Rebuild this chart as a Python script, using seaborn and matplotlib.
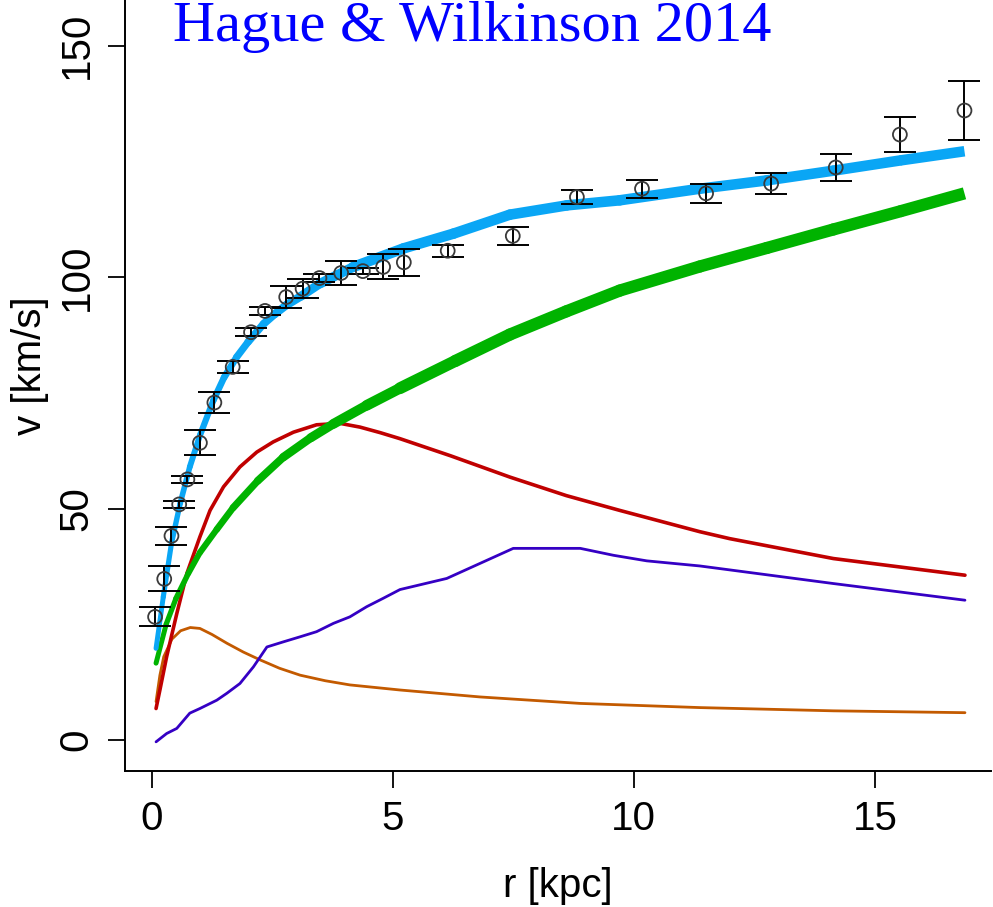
import numpy as np
import matplotlib
matplotlib.use("Agg")
import matplotlib.pyplot as plt
from matplotlib.collections import LineCollection
import seaborn as sns

# Observed rotation curve (kpc, km/s)
r_obs = [0.07, 0.26, 0.41, 0.57, 0.74, 1.00, 1.30, 1.68, 2.06, 2.35, 2.79, 3.13, 3.48,
         3.93, 4.38, 4.80, 5.23, 6.14, 7.49, 8.82, 10.17, 11.50, 12.85, 14.19, 15.52, 16.86]
v_obs = [26.6, 34.8, 44.1, 50.9, 56.3, 64.2, 72.9, 80.6, 88.1, 92.7, 95.7, 97.5, 99.8,
         100.9, 101.3, 102.2, 103.2, 105.7, 108.9, 117.3, 119.1, 118.1, 120.2, 123.7, 130.8, 136.0]
v_err = [2.05, 2.7, 2.0, 0.7, 0.8, 2.7, 2.2, 1.3, 0.9, 0.9, 2.3, 2.1, 0.8,
         2.6, 0.7, 2.7, 2.9, 1.25, 2.0, 1.5, 1.9, 2.1, 2.3, 2.9, 3.8, 6.3]

# Total model
r_total = [0.09, 0.24, 0.41, 0.59, 0.79, 1.00, 1.28, 1.50, 1.76, 2.00, 2.32, 2.55, 2.80,
           3.10, 3.49, 4.18, 5.22, 6.26, 7.43, 8.61, 9.71, 11.37, 12.76, 14.14, 15.52, 16.86]
v_total = [19.8, 30.9, 42.5, 51.1, 59.0, 65.8, 73.4, 78.3, 82.7, 86.0, 89.9, 92.0, 94.0,
           95.9, 98.6, 102.2, 106.2, 109.4, 113.5, 115.5, 116.6, 119.1, 120.9, 123.0, 125.2, 127.2]

# Dark matter halo
r_halo = [0.09, 0.30, 0.50, 0.76, 1.00, 1.35, 1.69, 2.20, 2.73, 3.30, 3.77, 4.46, 5.15,
          6.30, 7.43, 8.60, 9.71, 11.37, 12.76, 14.14, 15.52, 16.86]
v_halo = [16.6, 25.0, 30.5, 36.0, 40.5, 45.5, 50.2, 56.0, 61.1, 65.3, 68.3, 72.3, 76.0,
          81.9, 87.6, 92.6, 97.1, 102.3, 106.3, 110.3, 114.2, 118.1]

# Stellar disc
r_disc = [0.09, 0.17, 0.31, 0.52, 0.73, 1.00, 1.21, 1.49, 1.83, 2.18, 2.52, 2.94, 3.42,
          3.91, 4.32, 4.74, 5.15, 6.20, 7.43, 8.60, 9.71, 11.37, 11.99, 14.14, 16.87]
v_disc = [6.8, 10.8, 18.0, 27.3, 36.0, 43.9, 49.6, 54.7, 59.0, 62.2, 64.4, 66.5, 68.1,
          68.4, 67.6, 66.4, 65.1, 61.4, 56.8, 52.8, 49.6, 45.0, 43.5, 39.2, 35.6]

# Gas
r_gas = [0.09, 0.31, 0.52, 0.79, 1.00, 1.35, 1.56, 1.83, 2.11, 2.39, 2.73, 3.08, 3.42,
         3.77, 4.11, 4.46, 4.80, 5.15, 6.12, 7.50, 8.89, 9.58, 10.27, 11.37, 14.14, 16.87]
v_gas = [-0.4, 1.4, 2.5, 5.8, 6.8, 8.6, 10.1, 12.2, 15.8, 20.1, 21.2, 22.3, 23.4,
         25.2, 26.6, 28.8, 30.6, 32.5, 34.9, 41.4, 41.4, 39.9, 38.7, 37.6, 33.8, 30.2]

# Bulge
r_bulge = [0.09, 0.17, 0.25, 0.42, 0.60, 0.80, 1.00, 1.25, 1.56, 1.90, 2.25, 2.65, 3.08,
           3.60, 4.11, 5.15, 6.81, 8.89, 11.37, 14.14, 16.87]
v_bulge = [8.3, 14.0, 18.0, 21.8, 23.6, 24.3, 24.1, 22.8, 20.9, 19.0, 17.3, 15.5, 14.0,
           12.8, 11.9, 10.8, 9.3, 7.9, 7.0, 6.3, 5.9]

x_ticks = [0, 5, 10, 15]
y_ticks = [0, 50, 100, 150]
title = "Hague & Wilkinson 2014"

sns.set_style("ticks")
plt.rcParams["font.family"] = ["Liberation Sans", "DejaVu Sans"]
plt.rcParams["text.color"] = "black"
plt.rcParams["axes.labelcolor"] = "black"
plt.rcParams["xtick.color"] = "black"
plt.rcParams["ytick.color"] = "black"

W, H = 993, 907
fig = plt.figure(figsize=(W / 100, H / 100), dpi=100)
ax = fig.add_axes([125 / W, (H - 771) / H, (991 - 125) / W, (771 + 39) / H])
ax.set_xlim(-0.554, 17.41)
ax.set_ylim(-6.70, 168.3)


def tapered(ax, r, v, color, w0, w1, r_full, z):
    """Curve whose width grows with radius, with a square end."""
    pts = np.column_stack([r, v])
    segs = np.stack([pts[:-1], pts[1:]], axis=1)
    mid = 0.5 * (np.asarray(r[:-1]) + np.asarray(r[1:]))
    lw = w0 + (w1 - w0) * np.clip(mid / r_full, 0, 1)
    body = LineCollection(segs[:-1], linewidths=lw[:-1], colors=color,
                          capstyle="round", zorder=z)
    tail = LineCollection(segs[-1:], linewidths=lw[-1:], colors=color,
                          capstyle="butt", zorder=z)
    ax.add_collection(body)
    ax.add_collection(tail)


sns.lineplot(x=r_bulge, y=v_bulge, color="#c35a00", linewidth=2.0, sort=False,
             estimator=None, ax=ax, zorder=2)
sns.lineplot(x=r_gas, y=v_gas, color="#3500c4", linewidth=2.0, sort=False,
             estimator=None, ax=ax, zorder=2)
sns.lineplot(x=r_disc, y=v_disc, color="#c00000", linewidth=2.6, sort=False,
             estimator=None, ax=ax, zorder=2)
tapered(ax, r_halo, v_halo, "#00b300", 3.4, 8.8, 6.0, 3)
tapered(ax, r_total, v_total, "#0aa6f5", 3.4, 7.6, 4.5, 4)

ax.errorbar(r_obs, v_obs, yerr=v_err, fmt="none", ecolor="black",
            elinewidth=1.4, capsize=11.5, capthick=1.4, zorder=5)
sns.scatterplot(x=r_obs, y=v_obs, s=100, marker="o", facecolor="none",
                edgecolor="#3a3a3a", linewidth=1.3, ax=ax, zorder=6)

ax.set_xticks(x_ticks)
ax.set_yticks(y_ticks)
ax.set_xticklabels([str(t) for t in x_ticks])
ax.set_yticklabels([str(t) for t in y_ticks], rotation=90, va="center")
ax.tick_params(axis="both", length=12, width=1.3, labelsize=29, colors="black")
ax.tick_params(axis="x", pad=9)
ax.tick_params(axis="y", pad=9)
ax.set_xlabel("r [kpc]", fontsize=29, labelpad=21, color="black")
ax.set_ylabel("v [km/s]", fontsize=29, labelpad=6, color="black")

for side in ("top", "right"):
    ax.spines[side].set_visible(False)
for side in ("left", "bottom"):
    ax.spines[side].set_linewidth(1.4)
    ax.spines[side].set_color("black")

fig.text(173 / W, 1 - 41 / H, title, color="#0000ff", fontsize=42,
         family=["Liberation Serif", "DejaVu Serif"], ha="left", va="baseline")

fig.savefig("out.png", dpi=100)
